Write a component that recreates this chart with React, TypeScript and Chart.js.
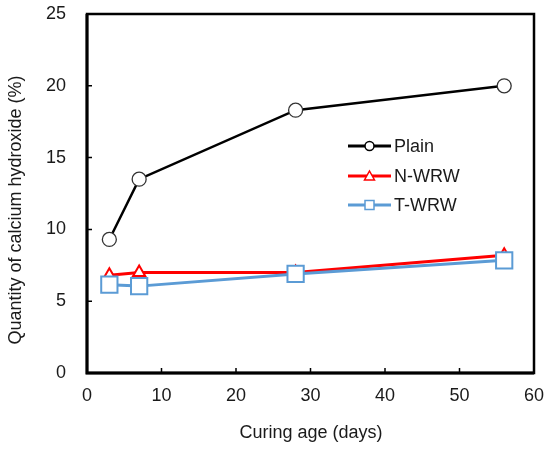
import React, { useEffect, useRef } from "react";
import { Chart, registerables } from "chart.js";

Chart.register(...registerables);

const curingDays = [3, 7, 28, 56];
const plainValues = [9.3, 13.5, 18.3, 20.0];
const nwrwValues = [6.8, 7.0, 7.0, 8.2];
const twrwValues = [6.15, 6.05, 6.9, 7.85];
const seriesNames = ["Plain", "N-WRW", "T-WRW"];
const xTicks = [0, 10, 20, 30, 40, 50, 60];
const yTicks = [0, 5, 10, 15, 20, 25];

const FONT = "'Liberation Sans', Arial, sans-serif";
const BLUE = "#5B9BD5";
const TEXT = "#1a1a1a";

const framePlugin = {
  id: "framePlugin",
  afterDraw(chart: any) {
    const { ctx, chartArea: a, scales } = chart;
    const xs = scales.x;
    const ys = scales.y;
    ctx.save();
    // frame
    ctx.strokeStyle = "#000";
    ctx.lineWidth = 2.5;
    ctx.strokeRect(a.left, a.top, a.right - a.left, a.bottom - a.top);
    ctx.lineWidth = 3;
    ctx.beginPath();
    ctx.moveTo(a.left, a.top);
    ctx.lineTo(a.left, a.bottom);
    ctx.lineTo(a.right, a.bottom);
    ctx.stroke();
    // inward ticks
    ctx.lineWidth = 1.5;
    ctx.beginPath();
    yTicks.forEach((v) => {
      const y = ys.getPixelForValue(v);
      ctx.moveTo(a.left, y);
      ctx.lineTo(a.left + 5, y);
    });
    xTicks.forEach((v) => {
      const x = xs.getPixelForValue(v);
      ctx.moveTo(x, a.bottom);
      ctx.lineTo(x, a.bottom - 5);
    });
    ctx.stroke();
    // tick labels
    ctx.fillStyle = TEXT;
    ctx.font = `18px ${FONT}`;
    ctx.textAlign = "right";
    ctx.textBaseline = "middle";
    yTicks.forEach((v) => {
      ctx.fillText(String(v), a.left - 21, ys.getPixelForValue(v));
    });
    ctx.textAlign = "center";
    ctx.textBaseline = "top";
    xTicks.forEach((v) => {
      ctx.fillText(String(v), xs.getPixelForValue(v), a.bottom + 14);
    });
    // axis titles
    ctx.textBaseline = "middle";
    ctx.fillText("Curing age (days)", (a.left + a.right) / 2 + 0.5, 433);
    ctx.save();
    ctx.translate(16, 210);
    ctx.rotate(-Math.PI / 2);
    ctx.fillText("Quantity of calcium hydroxide (%)", 0, 0);
    ctx.restore();
    // legend
    const rows = [146, 176, 205];
    const styles = [
      { color: "#000", shape: "circle" },
      { color: "#FF0000", shape: "triangle" },
      { color: BLUE, shape: "square" },
    ];
    rows.forEach((y, i) => {
      const st = styles[i];
      ctx.strokeStyle = st.color;
      ctx.lineWidth = 3;
      ctx.beginPath();
      ctx.moveTo(348, y);
      ctx.lineTo(391, y);
      ctx.stroke();
      const cx = 369.5;
      ctx.fillStyle = "#fff";
      ctx.lineWidth = 1.5;
      ctx.beginPath();
      if (st.shape === "circle") {
        ctx.arc(cx, y, 4.5, 0, Math.PI * 2);
      } else if (st.shape === "triangle") {
        ctx.moveTo(cx, y - 5);
        ctx.lineTo(cx + 5, y + 4);
        ctx.lineTo(cx - 5, y + 4);
        ctx.closePath();
      } else {
        ctx.rect(cx - 4.5, y - 4.5, 9, 9);
      }
      ctx.fill();
      ctx.stroke();
      ctx.fillStyle = TEXT;
      ctx.textAlign = "left";
      ctx.textBaseline = "middle";
      ctx.font = `18px ${FONT}`;
      ctx.fillText(seriesNames[i], 394, y + 1);
    });
    ctx.restore();
  },
};

export default function App() {
  const ref = useRef<HTMLCanvasElement | null>(null);
  useEffect(() => {
    document.body.style.margin = "0";
    if (!ref.current) return;
    const toPts = (vals: number[]) => curingDays.map((d, i) => ({ x: d, y: vals[i] }));
    const chart = new Chart(ref.current, {
      type: "line",
      data: {
        datasets: [
          {
            label: seriesNames[0],
            data: toPts(plainValues),
            borderColor: "#000",
            borderWidth: 2.5,
            pointStyle: "circle",
            pointRadius: 7,
            pointBackgroundColor: "#fff",
            pointBorderColor: "#333",
            pointBorderWidth: 1.3,
            order: 3,
          },
          {
            label: seriesNames[1],
            data: toPts(nwrwValues),
            borderColor: "#FF0000",
            borderWidth: 3,
            pointStyle: "triangle",
            pointRadius: 7,
            pointBackgroundColor: "#fff",
            pointBorderColor: "#FF0000",
            pointBorderWidth: 2,
            order: 2,
          },
          {
            label: seriesNames[2],
            data: toPts(twrwValues),
            borderColor: BLUE,
            borderWidth: 3,
            pointStyle: "rect",
            pointRadius: 11.5,
            pointBackgroundColor: "#fff",
            pointBorderColor: BLUE,
            pointBorderWidth: 2,
            order: 1,
          },
        ],
      },
      options: {
        animation: false,
        responsive: false,
        maintainAspectRatio: false,
        layout: { padding: { left: 0, right: 16, top: 14, bottom: 0 } },
        plugins: { legend: { display: false }, tooltip: { enabled: false } },
        scales: {
          x: {
            type: "linear",
            min: 0,
            max: 60,
            grid: { display: false },
            border: { display: false },
            ticks: { display: false },
            afterFit: (s: any) => {
              s.height = 77;
            },
          },
          y: {
            min: 0,
            max: 25,
            grid: { display: false },
            border: { display: false },
            ticks: { display: false },
            afterFit: (s: any) => {
              s.width = 87;
            },
          },
        },
      },
      plugins: [framePlugin],
    });
    return () => chart.destroy();
  }, []);
  return (
    <div style={{ width: 550, height: 450 }}>
      <canvas ref={ref} width={550} height={450} style={{ width: 550, height: 450 }} />
    </div>
  );
}
